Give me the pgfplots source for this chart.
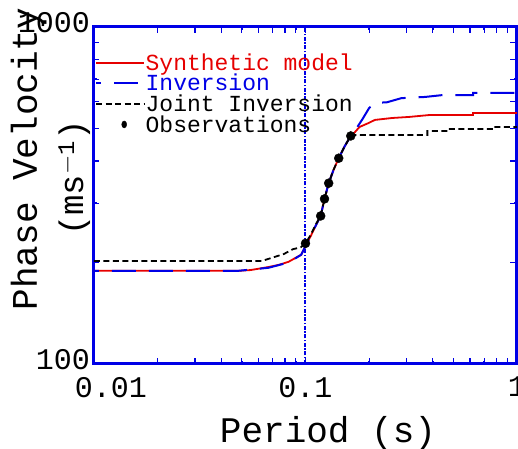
\documentclass[border=0pt]{standalone}
\usepackage{fontspec}
\setmainfont{Liberation Mono}
\usepackage{pgfplots}
\pgfplotsset{compat=1.18}
\definecolor{fblue}{RGB}{0,0,230}
\definecolor{fred}{RGB}{230,0,0}

\begin{document}
\begin{tikzpicture}
\begin{axis}[
    at={(0,0)}, anchor=south west,
    scale only axis, width=423bp, height=337bp,
    xmode=log, ymode=log,
    xmin=0.01, xmax=1, ymin=100, ymax=1000,
    xtick={0.01,0.1,1},
    xticklabels={\hspace*{34bp}0.01,0.1,1},
    ytick={100,1000}, yticklabels={100,1000},
    tick align=inside,
    major tick length=6bp,
    tick style={fblue, line width=1.5bp},
    axis line style={fblue, line width=3bp},
    tick label style={font=\fontsize{30bp}{30bp}\selectfont, black},
    yticklabel style={inner sep=0bp, xshift=-4bp, yshift=4bp},
    xticklabel style={inner sep=3bp, yshift=-10bp},
    legend cell align=left,
    legend image code/.code={\draw[#1] (0bp,0bp) -- (48bp,0bp);},
    legend style={draw=none, fill=none, at={(0,1)}, anchor=north west,
        xshift=1bp, yshift=-26bp, inner sep=0pt, row sep=1.4bp,
        font=\fontsize{23bp}{23bp}\selectfont,
        nodes={inner sep=0.5bp}},
]
\addplot[fblue, line width=2bp, dash pattern=on 4bp off 1.5bp on 1.5bp off 1.5bp, forget plot]
  coordinates {(0.1,100) (0.1,1000)};

\addplot[fred, line width=1.8bp] coordinates {
  (0.01,189) (0.048,189) (0.055,190) (0.0668,194) (0.075,197) (0.0831,201)
  (0.0955,211) (0.1,224) (0.106,240) (0.112,258) (0.118,275) (0.123,309)
  (0.1287,344) (0.136,378) (0.1436,408) (0.153,442) (0.1637,475) (0.171,487)
  (0.18,505) (0.199,519) (0.213,530) (0.257,537) (0.31,541) (0.385,548)
  (0.62,548) (0.62,556) (1,556)};
\addlegendentry{\textcolor{fred}{Synthetic model}}

\addplot[fblue, line width=2bp, dash pattern=on 24bp off 13bp, dash phase=19bp] coordinates {
  (0.01,189) (0.048,189) (0.0668,193) (0.0831,200) (0.0955,211) (0.1,224)
  (0.106,240) (0.112,258) (0.118,275) (0.123,309) (0.1287,344) (0.136,378)
  (0.1436,408) (0.153,442) (0.1637,475) (0.174,500) (0.185,530) (0.191,548)
  (0.2,575) (0.213,595) (0.243,598) (0.284,615) (0.367,620) (0.444,628)
  (0.62,628) (0.62,637) (1,637)};
\addlegendentry{\textcolor{fblue}{Inversion}}

\addplot[black, line width=1.8bp, dash pattern=on 6bp off 3.5bp] coordinates {
  (0.01,202) (0.062,202) (0.07,207) (0.079,212) (0.087,219) (0.095,222)
  (0.1,228) (0.106,242) (0.112,260) (0.118,275) (0.123,309) (0.1287,344)
  (0.136,378) (0.1436,408) (0.153,442) (0.1637,475) (0.171,478) (0.377,478)
  (0.377,491) (0.475,491) (0.475,498) (0.77,498) (0.77,505) (1,505)};
\addlegendentry{Joint Inversion}

\addplot[black, only marks, mark=*, mark size=4.5bp,
  legend image code/.code={\fill[black] (28bp,0bp) ellipse (2.5bp and 3.5bp);}]
  coordinates {(0.1,228) (0.118,275) (0.123,309) (0.1287,344) (0.1436,408) (0.1637,475)};
\addlegendentry{Observations}
\end{axis}
% minor ticks on the frame (axis box is 423bp x 337bp, one decade each way)
\foreach \d in {0,1}{
  \foreach \k in {2,...,9}{
    \pgfmathsetmacro\xx{(\d+log10(\k))*211.5}
    \draw[fblue, line width=1.3bp] (\xx bp,0bp) -- ++(0bp,6bp);
    \draw[fblue, line width=1.3bp] (\xx bp,337bp) -- ++(0bp,-6bp);
  }
}
\foreach \k in {2,...,9}{
  \pgfmathsetmacro\yy{log10(\k)*337}
  \draw[fblue, line width=1.3bp] (0bp,\yy bp) -- ++(5bp,0bp);
  \draw[fblue, line width=1.3bp] (423bp,\yy bp) -- ++(-7bp,0bp);
}
\node[rotate=90, anchor=base, font=\fontsize{36bp}{36bp}\selectfont] at (-57bp,205bp) {Phase Velocity};
\node[rotate=90, anchor=base, font=\fontsize{34bp}{34bp}\selectfont] at (-11bp,186bp) {(ms$^{\mathrm{-1}}$)};
\node[anchor=base, font=\fontsize{36bp}{36bp}\selectfont] at (234bp,-78bp) {Period (s)};
\pgfresetboundingbox
\path[use as bounding box] (-94bp,-85bp) rectangle (424bp,364bp);
\end{tikzpicture}
\end{document}
